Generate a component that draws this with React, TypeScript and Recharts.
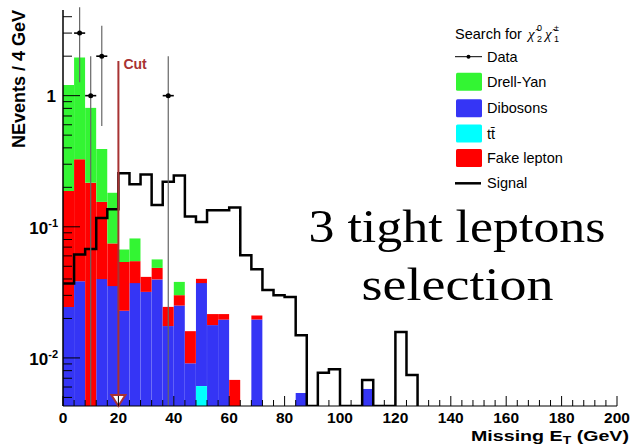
import React from 'react';
import {
  ComposedChart,
  Bar,
  Line,
  Scatter,
  XAxis,
  YAxis,
  ErrorBar,
  ReferenceLine,
  ReferenceDot,
  Customized,
} from 'recharts';

const SANS = '"Liberation Sans", Arial, sans-serif';
const SERIF = '"Liberation Serif", "Times New Roman", serif';

// log axis range
const Y_MIN = 0.0043;
const Y_MAX = 4.5;

// lower edge of each 4 GeV bin; everything above 128 GeV is empty
const BIN_LOW = [
  0, 4, 8, 12, 16, 20, 24, 28, 32, 36, 40, 44, 48, 52, 56, 60,
  64, 68, 72, 76, 80, 84, 88, 92, 96, 100, 104, 108, 112, 116, 120, 124,
];

const TTBAR = [
  0, 0, 0, 0, 0, 0, 0, 0, 0, 0, 0, 0, 0.0061, 0, 0, 0,
  0, 0, 0, 0, 0, 0, 0, 0, 0, 0, 0, 0, 0, 0, 0, 0,
];
const DIBOSONS = [
  0.0245, 0.0385, 0, 0.0399, 0.0353, 0.0229, 0.0372, 0.0319, 0.0397, 0.0175, 0.0251, 0.0091, 0.0311, 0.0178, 0.0196, 0,
  0, 0.0196, 0, 0, 0, 0.0054, 0, 0, 0, 0, 0, 0.0058, 0, 0, 0, 0,
];
const FAKE_LEPTON = [
  0.163, 0.289, 0.217, 0.115, 0.0394, 0.0311, 0.0175, 0.0096, 0.0089, 0.007, 0.005, 0.0069, 0.0029, 0.0038, 0.002, 0.0068,
  0, 0.0015, 0, 0, 0, 0, 0, 0, 0, 0, 0, 0, 0, 0, 0, 0,
];
const DRELL_YAN = [
  1.02, 1.63, 0.59, 0.237, 0.107, 0.0132, 0.0268, 0, 0.0078, 0, 0.0079, 0, 0, 0, 0, 0,
  0, 0, 0, 0, 0, 0, 0, 0, 0, 0, 0, 0, 0, 0, 0, 0,
];
const SIGNAL = [
  0.037, 0.0616, 0.0676, 0.1165, 0.1358, 0.256, 0.211, 0.25, 0.1465, 0.221, 0.246, 0.12, 0.109, 0.134, 0.134, 0.1406,
  0.0608, 0.0475, 0.0329, 0.0301, 0.0292, 0.0149, 0, 0.0077, 0.0082, 0, 0, 0.0068, 0, 0, 0.0158, 0.0074,
];

// observed events (bin centres)
const DATA_X = [6, 10, 14, 38];
const DATA_N = [3, 1, 2, 1];

const X_TICKS = Array.from({ length: 51 }, (_, i) => i * 4);
const Y_MAJOR = [0.01, 0.1, 1];
const Y_TICKS = [
  0.005, 0.006, 0.007, 0.008, 0.009, 0.01,
  0.02, 0.03, 0.04, 0.05, 0.06, 0.07, 0.08, 0.09, 0.1,
  0.2, 0.3, 0.4, 0.5, 0.6, 0.7, 0.8, 0.9, 1, 2, 3, 4,
];

const CUT_X = 20;
const CUT_TOP = 1.84;
const CUT_COLOR = '#a83232';

const STACK = [
  { key: 'ttbar', name: 'tt\u0304', color: '#00ffff' },
  { key: 'dibosons', name: 'Dibosons', color: '#3535f5' },
  { key: 'fake', name: 'Fake lepton', color: '#ff0000' },
  { key: 'drellYan', name: 'Drell-Yan', color: '#33f533' },
];

const bins = BIN_LOW.map((lo, i) => ({
  x: lo + 2,
  ttbar: TTBAR[i],
  dibosons: DIBOSONS[i],
  fake: FAKE_LEPTON[i],
  drellYan: DRELL_YAN[i],
}));

// outline of the signal histogram, drawn as a step line through the bin edges
const signalSteps = [
  ...BIN_LOW.map((lo, i) => ({ x: lo, signal: Math.max(SIGNAL[i], Y_MIN) })),
  { x: 128, signal: Y_MIN },
];

const dataPoints = DATA_X.map((x, i) => {
  const n = DATA_N[i];
  const err = Math.sqrt(n);
  return { x, n, ey: [n - Math.max(n - err, Y_MIN), err], ex: 2 };
});

function XTick({ x, y, payload }: any) {
  const major = payload.value % 20 === 0;
  return (
    <g>
      <line x1={x} x2={x} y1={y} y2={y - (major ? 10 : 6)} stroke="#000" />
      {major && (
        <text x={x} y={y + 16.5} textAnchor="middle" fontSize={15.5} fontWeight="bold" fontFamily={SANS} fill="#000">
          {payload.value}
        </text>
      )}
    </g>
  );
}

function YTick({ x, y, payload }: any) {
  const v = payload.value;
  const major = Y_MAJOR.includes(v);
  const exp = Math.round(Math.log10(v));
  return (
    <g>
      <line x1={x} x2={x + (major ? 17 : 9)} y1={y} y2={y} stroke="#000" />
      {major &&
        (exp === 0 ? (
          <text x={x - 7} y={y + 6} textAnchor="end" fontSize={17} fontWeight="bold" fontFamily={SANS} fill="#000">
            1
          </text>
        ) : (
          <text x={x - 5} y={y + 7} textAnchor="end" fontSize={17} fontWeight="bold" fontFamily={SANS} fill="#000">
            10
            <tspan dy={-7} fontSize={11}>{exp}</tspan>
          </text>
        ))}
    </g>
  );
}

function CutLabel({ viewBox }: any) {
  if (!viewBox) return null;
  return (
    <text x={viewBox.x + 5} y={viewBox.y + 8} fontSize={14} fontWeight="bold" fontFamily={SANS} fill={CUT_COLOR}>
      Cut
    </text>
  );
}

function Arrow({ cx, cy }: any) {
  return (
    <path
      d={`M${cx - 7},${cy - 11} L${cx + 7},${cy - 11} L${cx},${cy} Z`}
      fill="#fff"
      stroke={CUT_COLOR}
      strokeWidth={2}
    />
  );
}

function Overlay() {
  const rows = [
    { y: 81.7, ...STACK[3] },
    { y: 108.3, ...STACK[1] },
    { y: 133.5, ...STACK[0] },
    { y: 158, ...STACK[2] },
  ];
  const txt = { fontFamily: SANS, fontSize: 14.5, fill: '#000' };
  return (
    <g>
      {/* axis titles */}
      <text
        transform="rotate(-90)"
        x={-79}
        y={25}
        textAnchor="middle"
        fontSize={18}
        fontWeight="bold"
        fontFamily={SANS}
      >
        NEvents / 4 GeV
      </text>
      <text
        x={629}
        y={441}
        textAnchor="end"
        fontSize={15.5}
        fontWeight="bold"
        fontFamily={SANS}
        textLength={158}
        lengthAdjust="spacingAndGlyphs"
      >
        Missing E<tspan dy={3} fontSize={11}>T</tspan>
        <tspan dy={-3}> (GeV)</tspan>
      </text>

      {/* legend */}
      <text x={455} y={39} {...txt}>Search for</text>
      <text x={528} y={39} fontFamily={SERIF} fontSize={15} fontStyle="italic">χ̃</text>
      <text x={537} y={31} fontFamily={SANS} fontSize={9}>0</text>
      <text x={537} y={42} fontFamily={SANS} fontSize={9}>2</text>
      <text x={545} y={39} fontFamily={SERIF} fontSize={15} fontStyle="italic">χ̃</text>
      <text x={554} y={31} fontFamily={SANS} fontSize={9}>±</text>
      <text x={554} y={42} fontFamily={SANS} fontSize={9}>1</text>

      <line x1={455} x2={482} y1={56.7} y2={56.7} stroke="#000" />
      <circle cx={468.5} cy={56.7} r={2} fill="#000" />
      <text x={487} y={61.7} {...txt}>Data</text>

      {rows.map((r) => (
        <g key={r.key}>
          <rect x={456} y={r.y - 9} width={26} height={18} rx={1.5} fill={r.color} />
          <text x={487} y={r.y + 5} {...txt}>{r.name}</text>
        </g>
      ))}

      <line x1={455} x2={481} y1={183.3} y2={183.3} stroke="#000" strokeWidth={2.5} />
      <text x={487} y={188.3} {...txt}>Signal</text>

      {/* selection annotation */}
      <text x={457} y={242} textAnchor="middle" fontFamily={SERIF} fontSize={46} textLength={297} lengthAdjust="spacingAndGlyphs">
        3 tight leptons
      </text>
      <text x={457.5} y={300} textAnchor="middle" fontFamily={SERIF} fontSize={46} textLength={192} lengthAdjust="spacingAndGlyphs">
        selection
      </text>
    </g>
  );
}

export default function App() {
  return (
    <div style={{ position: 'absolute', left: 0, top: 0, width: 634, height: 446, background: '#fff' }}>
      <ComposedChart
        width={634}
        height={446}
        data={bins}
        margin={{ top: 10, right: 17, left: 0, bottom: 0 }}
        barCategoryGap={0}
        barGap={0}
      >
        <XAxis
          dataKey="x"
          type="number"
          domain={[0, 200]}
          allowDataOverflow
          ticks={X_TICKS}
          interval={0}
          tick={(p: any) => <XTick {...p} />}
          tickLine={false}
          tickSize={0}
          tickMargin={0}
          height={40}
          axisLine={{ stroke: '#000', strokeWidth: 1.2 }}
        />
        <XAxis
          xAxisId="edge"
          orientation="top"
          dataKey="x"
          type="number"
          domain={[0, 200]}
          allowDataOverflow
          height={0}
          tick={false}
          tickLine={false}
          axisLine={{ stroke: '#222', strokeWidth: 1.2 }}
        />
        <YAxis
          type="number"
          scale="log"
          domain={[Y_MIN, Y_MAX]}
          allowDataOverflow
          ticks={Y_TICKS}
          interval={0}
          tick={(p: any) => <YTick {...p} />}
          tickLine={false}
          tickSize={0}
          tickMargin={0}
          width={63}
          axisLine={{ stroke: '#000', strokeWidth: 1.5 }}
        />
        <YAxis
          yAxisId="frame"
          orientation="right"
          type="number"
          domain={[0, 1]}
          width={0}
          tick={false}
          tickLine={false}
          axisLine={{ stroke: '#888' }}
        />

        {STACK.map((s) => (
          <Bar key={s.key} dataKey={s.key} stackId="bkg" fill={s.color} isAnimationActive={false} />
        ))}

        <Line
          xAxisId="edge"
          data={signalSteps}
          dataKey="signal"
          type="stepAfter"
          stroke="#000"
          strokeWidth={2.5}
          dot={false}
          activeDot={false}
          isAnimationActive={false}
        />

        <ReferenceLine
          segment={[
            { x: CUT_X, y: Y_MIN },
            { x: CUT_X, y: CUT_TOP },
          ]}
          stroke={CUT_COLOR}
          strokeWidth={2}
          label={(p: any) => <CutLabel {...p} />}
        />
        <ReferenceDot x={CUT_X} y={Y_MIN} ifOverflow="visible" shape={(p: any) => <Arrow {...p} />} />

        <Scatter
          data={dataPoints}
          dataKey="n"
          fill="#000"
          shape={(p: any) => <circle cx={p.cx} cy={p.cy} r={2.5} fill="#000" />}
          isAnimationActive={false}
        >
          <ErrorBar dataKey="ey" direction="y" width={0} stroke="#666" strokeWidth={1.2} />
          <ErrorBar dataKey="ex" direction="x" width={0} stroke="#000" strokeWidth={1.6} />
        </Scatter>

        <Customized component={<Overlay />} />
      </ComposedChart>
    </div>
  );
}
